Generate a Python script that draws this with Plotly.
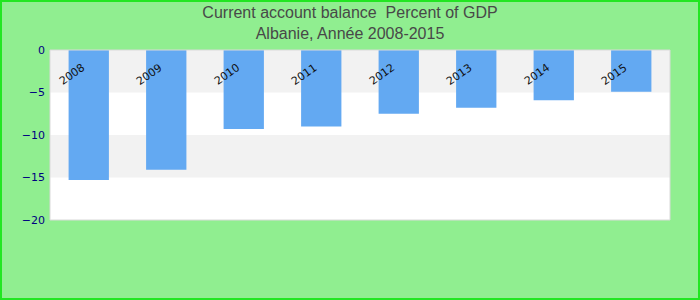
import plotly.graph_objects as go

years = ["2008", "2009", "2010", "2011", "2012", "2013", "2014", "2015"]
values = [-15.3, -14.1, -9.3, -9.0, -7.5, -6.8, -5.9, -4.9]
y_ticks = [0, -5, -10, -15, -20]

L, R, T, B = 50, 30, 50, 80
W, H = 700, 300
pw, ph = W - L - R, H - T - B

xs = list(range(len(years)))

fig = go.Figure()
fig.add_trace(go.Bar(x=xs, y=values, marker_color="#63A9F2", width=0.52,
                     marker_line_width=0))

shapes = []
for y0, y1 in [(0, -5), (-10, -15)]:
    shapes.append(dict(type="rect", xref="paper", yref="y", x0=0, x1=1, y0=y0, y1=y1,
                       fillcolor="#F2F2F2", line_width=0, layer="below"))
shapes.append(dict(type="rect", xref="paper", yref="paper", x0=0, x1=1, y0=0, y1=1,
                   line=dict(color="#D9D9D9", width=1), fillcolor="rgba(0,0,0,0)"))
shapes.append(dict(type="rect", xref="paper", yref="paper",
                   x0=-(L - 1) / pw, x1=1 + (R - 1) / pw,
                   y0=-(B - 1) / ph, y1=1 + (T - 1) / ph,
                   line=dict(color="#22E622", width=2), fillcolor="rgba(0,0,0,0)"))

annotations = []
for i, yr in enumerate(years):
    annotations.append(dict(x=i, y=-2.85, xref="x", yref="y", text=yr, showarrow=False,
                            textangle=-35, xshift=-17,
                            font=dict(family="DejaVu Sans", size=11, color="#111111")))

fig.update_layout(
    width=W, height=H,
    margin=dict(l=L, r=R, t=T, b=B),
    paper_bgcolor="#90EE90",
    plot_bgcolor="#FFFFFF",
    showlegend=False,
    title=dict(text="Current account balance  Percent of GDP<br>Albanie, Année 2008-2015",
               x=0.5, xanchor="center", yref="container", y=1 - 18 / 300, yanchor="middle",
               font=dict(family="Liberation Sans", size=16, color="#484848")),
    shapes=shapes,
    annotations=annotations,
)
fig.update_xaxes(range=[-0.5, len(years) - 0.5], showticklabels=False, showgrid=False,
                 zeroline=False, ticks="")
fig.update_yaxes(range=[-20, 0], tickvals=y_ticks, showgrid=False, zeroline=False,
                 ticks="", tickfont=dict(family="DejaVu Sans", size=11, color="#000080"),
                 ticklabelstandoff=4)

fig.write_html("out.html")
